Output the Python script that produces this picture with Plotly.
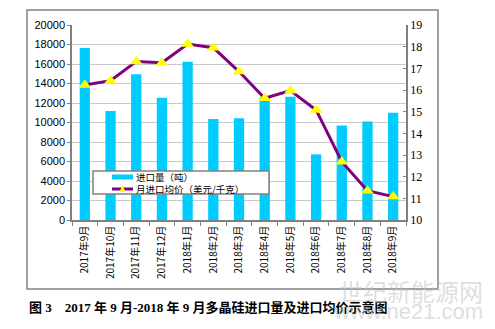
import plotly.graph_objects as go

categories = ["2017年9月", "2017年10月", "2017年11月", "2017年12月", "2018年1月", "2018年2月",
              "2018年3月", "2018年4月", "2018年5月", "2018年6月", "2018年7月", "2018年8月", "2018年9月"]
import_volume = [17640, 11180, 14940, 12550, 16240, 10360, 10430, 12600, 12650, 6730, 9680, 10090, 11000]
avg_price = [16.23, 16.43, 17.31, 17.26, 18.12, 17.95, 16.85, 15.62, 15.97, 15.08, 12.69, 11.35, 11.08]
left_ticks = [0, 2000, 4000, 6000, 8000, 10000, 12000, 14000, 16000, 18000, 20000]
right_ticks = list(range(10, 20))
series_names = ["进口量（吨）", "月进口均价（美元/千克）"]

fig = go.Figure()
fig.add_trace(go.Bar(x=categories, y=import_volume, name=series_names[0],
                     marker=dict(color="#00CCFF", line=dict(width=0)), yaxis="y"))
fig.add_trace(go.Scatter(x=categories, y=avg_price, name=series_names[1], yaxis="y2",
                         mode="lines+markers",
                         line=dict(color="#800080", width=3),
                         marker=dict(symbol="triangle-up", size=11, color="#FFFF00",
                                     line=dict(width=0))))

fig.update_layout(
    width=495, height=329,
    margin=dict(l=72, r=89, t=25, b=109),
    paper_bgcolor="white", plot_bgcolor="white",
    bargap=0.6,
    showlegend=False,
    xaxis=dict(type="category", tickangle=-90, showgrid=False,
               showline=True, linecolor="#808080", linewidth=1.5,
               ticks="outside", ticklen=4, tickcolor="#808080",
               tickson="boundaries",
               tickfont=dict(family="Noto Sans CJK SC", size=10, color="black"),
               range=[-0.5, 12.5]),
    yaxis=dict(range=[0, 20000], tickvals=left_ticks, tickformat="d", showgrid=True,
               gridcolor="#C8C8C8", gridwidth=1,
               showline=True, linecolor="#808080", linewidth=1.5,
               ticks="outside", ticklen=3, tickcolor="#808080",
               tickfont=dict(family="Liberation Sans", size=11, color="black"),
               zeroline=False),
    yaxis2=dict(range=[10, 19], tickvals=right_ticks, overlaying="y", side="right",
                showgrid=False, showline=True, linecolor="#808080", linewidth=1.5,
                ticks="inside", ticklen=3, tickcolor="#808080",
                tickfont=dict(family="Liberation Serif", size=12, color="black"),
                zeroline=False),
    font=dict(family="Noto Sans CJK SC"),
)

# outer chart border
fig.add_shape(type="rect", xref="paper", yref="paper",
              x0=-0.1347, x1=1.0958, y0=-0.3538, y1=1.0769,
              line=dict(color="#808080", width=1.5), fillcolor="rgba(0,0,0,0)", layer="below")

# compact legend (Excel style)
fig.add_shape(type="rect", xref="paper", yref="paper",
              x0=0.0629, x1=0.5898, y0=0.1333, y1=0.2513,
              line=dict(color="#808080", width=1.5), fillcolor="white", layer="above")
fig.add_shape(type="line", xref="paper", yref="paper",
              x0=0.1198, x1=0.1826, y0=0.2205, y1=0.2205,
              line=dict(color="#00CCFF", width=5), layer="above")
fig.add_shape(type="line", xref="paper", yref="paper",
              x0=0.1198, x1=0.1826, y0=0.1590, y1=0.1590,
              line=dict(color="#800080", width=3), layer="above")
fig.add_shape(type="path", xref="paper", yref="paper",
              path="M 0.1422,0.1436 L 0.1602,0.1436 L 0.1512,0.1795 Z",
              fillcolor="#FFFF00", line=dict(width=0), layer="above")
fig.add_annotation(xref="paper", yref="paper", x=0.1886, y=0.2205, xanchor="left", yanchor="middle",
                   text=series_names[0], showarrow=False, borderpad=0,
                   font=dict(family="Noto Sans CJK SC", size=9.5, color="black"))
fig.add_annotation(xref="paper", yref="paper", x=0.1886, y=0.1590, xanchor="left", yanchor="middle",
                   text=series_names[1], showarrow=False, borderpad=0,
                   font=dict(family="Noto Sans CJK SC", size=9.5, color="black"))

fig.add_annotation(xref="paper", yref="paper", x=-0.1347, y=-0.45, xanchor="left", yanchor="middle",
                   text="<b>图 3　2017 年 9 月-2018 年 9 月多晶硅进口量及进口均价示意图</b>",
                   showarrow=False,
                   font=dict(family="Liberation Serif, Noto Sans CJK SC", size=13, color="black"))

# watermark
fig.add_annotation(xref="paper", yref="paper", x=1.2365, y=-0.359, xanchor="right", yanchor="middle",
                   text="世纪新能源网", showarrow=False,
                   font=dict(family="Noto Sans CJK SC", size=24, color="rgba(190,190,190,0.5)"))
fig.add_annotation(xref="paper", yref="paper", x=1.2365, y=-0.467, xanchor="right", yanchor="middle",
                   text="www.ne21.com", showarrow=False,
                   font=dict(family="Liberation Sans", size=22, color="rgba(190,190,190,0.5)"))

fig.write_html("out.html")
